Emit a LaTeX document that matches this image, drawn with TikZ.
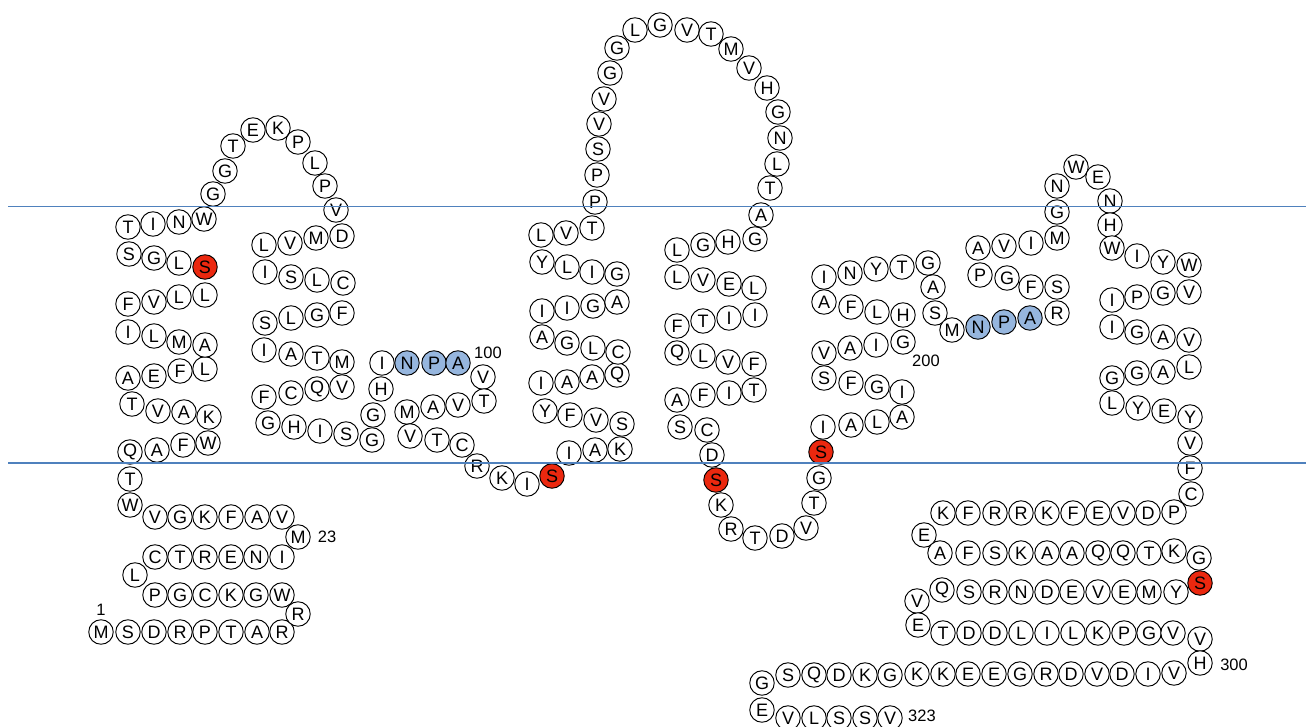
\documentclass[tikz,border=0pt]{standalone}
\usepackage{fontspec}
\setmainfont{Liberation Sans}
\definecolor{memb}{RGB}{79,129,189}
\definecolor{sred}{RGB}{235,40,15}
\definecolor{nblue}{RGB}{150,182,222}
\begin{document}
\begin{tikzpicture}[x=1pt,y=-1pt,
  resn/.style={circle,draw=black,line width=0.95pt,fill=white,minimum size=24.5pt,inner sep=0pt,font=\fontsize{18}{18}\selectfont},
  resr/.style={resn,fill=sred},
  resb/.style={resn,fill=nblue},
  lab/.style={font=\fontsize{16.5}{16.5}\selectfont,inner sep=0pt},
  membline/.style={draw=memb,line width=1.6pt}]
\path[use as bounding box] (0,0) rectangle (1306,726);
\foreach \x/\y/\l/\s [count=\i] in {
101/632/M/n, 128/632/S/n, 154/632/D/n, 180/632/R/n, 205/632/P/n, 231/632/T/n, 257/632/A/n, 282/632/R/n,
298/614/R/n, 282/595/W/n, 256/595/G/n, 231/595/K/n, 205/595/C/n, 180/595/G/n, 155/595/P/n,
135/575/L/n, 155/557/C/n, 180/557/T/n, 205/557/R/n, 231/557/E/n, 256/557/N/n, 282/557/I/n,
298/537/M/n, 282/517/V/n, 257/517/A/n, 231/517/F/n, 205/517/K/n, 180/517/G/n, 155/517/V/n,
130/505/W/n, 130/479/T/n, 130/452/Q/n, 157/450/A/n, 183/445/F/n, 208/443/W/n,
209/417/K/n, 184/412/A/n, 158/411/V/n, 132/404/T/n,
128/378/A/n, 154/376/E/n, 180/371/F/n, 205/369/L/n,
205/345/A/n, 179/342/M/n, 154/336/L/n, 128/332/I/n,
128/304/F/n, 154/302/V/n, 179/297/L/n, 205/295/L/n,
205/267/S/r, 179/263/L/n, 154/258/G/n, 129/254/S/n,
128/227/T/n, 153/224/I/n, 179/222/N/n, 204/219/W/n,
213/194/G/n, 225/171/G/n, 233/146/T/n, 253/130/E/n, 278/128/K/n, 298/142/P/n, 315/163/L/n, 325/186/P/n, 336/210/V/n,
342/236/D/n, 316/238/M/n, 290/243/V/n, 264/245/L/n,
265/272/I/n, 291/277/S/n, 317/280/L/n, 343/283/C/n,
342/313/F/n, 317/315/G/n, 291/318/L/n, 265/323/S/n,
264/350/I/n, 291/354/A/n, 317/358/T/n, 342/362/M/n,
342/387/V/n, 317/389/Q/n, 291/393/C/n, 264/397/F/n,
268/423/G/n, 294/427/H/n, 320/431/I/n, 346/434/S/n,
372/440/G/n, 373/415/G/n, 381/389/H/n, 382/363/I/n,
407/363/N/b, 434/363/P/b, 458/363/A/b,
483/377/V/n, 484/401/T/n, 458/405/V/n, 433/407/A/n, 407/412/M/n,
410/436/V/n, 437/440/T/n, 462/445/C/n, 477/466/R/n, 502/478/K/n, 527/484/I/n, 552/476/S/r,
569/453/I/n, 595/450/A/n, 620/449/K/n,
622/424/S/n, 596/420/V/n, 570/415/F/n, 545/411/Y/n,
541/383/I/n, 567/382/A/n, 592/377/A/n, 617/375/Q/n,
618/352/C/n, 593/348/L/n, 567/343/G/n, 542/337/A/n,
542/311/I/n, 567/308/I/n, 593/306/G/n, 617/302/A/n,
617/274/G/n, 592/272/I/n, 567/267/L/n, 542/262/Y/n,
541/235/L/n, 566/233/V/n, 592/228/T/n,
595/202/P/n, 597/175/P/n, 598/149/S/n, 599/124/V/n, 604/99/V/n, 610/73/G/n, 617/48/G/n,
635/30/L/n, 660/25/G/n, 687/30/V/n, 711/34/T/n, 731/49/M/n, 749/68/V/n, 767/88/H/n, 778/112/G/n,
780/138/N/n, 777/164/L/n, 770/188/T/n, 761/215/A/n,
755/239/G/n, 728/242/H/n, 703/245/G/n, 677/250/L/n,
677/277/L/n, 703/280/V/n, 729/284/E/n, 754/288/L/n,
755/315/I/n, 729/318/I/n, 703/321/T/n, 677/326/F/n,
677/353/Q/n, 703/356/L/n, 728/362/V/n, 754/364/F/n,
754/390/T/n, 729/393/I/n, 703/395/F/n, 677/400/A/n,
680/427/S/n, 707/430/C/n, 712/455/D/n, 716/480/S/r, 721/505/K/n, 731/529/R/n,
755/538/T/n, 782/536/D/n, 806/528/V/n, 814/503/T/n, 819/478/G/n, 821/452/S/r,
823/427/I/n, 851/425/A/n, 877/422/L/n, 902/417/A/n,
902/392/I/n, 877/387/G/n, 851/383/F/n, 824/378/S/n,
824/353/V/n, 850/348/A/n, 876/345/I/n, 903/342/G/n,
903/315/H/n, 877/312/L/n, 851/307/F/n, 824/302/A/n,
824/277/I/n, 850/273/N/n, 876/269/Y/n, 902/267/T/n, 928/263/G/n,
933/287/A/n, 935/313/S/n, 952/330/M/n,
978/327/N/b, 1004/322/P/b, 1030/318/A/b,
1057/313/R/n, 1057/287/S/n, 1031/287/F/n, 1007/278/G/n, 980/275/P/n,
978/248/A/n, 1004/246/V/n, 1031/243/I/n, 1057/238/M/n,
1057/212/G/n, 1057/186/N/n, 1076/167/W/n, 1098/177/E/n, 1110/201/N/n, 1110/225/H/n,
1112/248/W/n, 1137/256/I/n, 1163/262/Y/n, 1189/265/W/n,
1189/292/V/n, 1163/293/G/n, 1137/297/P/n, 1112/300/I/n,
1112/327/I/n, 1137/332/G/n, 1163/337/A/n, 1189/340/V/n,
1189/367/L/n, 1163/372/A/n, 1137/373/G/n, 1112/378/G/n,
1112/403/L/n, 1138/408/Y/n, 1164/411/E/n, 1190/417/Y/n,
1190/443/V/n, 1190/468/F/n, 1191/494/C/n,
1174/512/P/n, 1148/513/D/n, 1123/513/V/n, 1098/513/E/n, 1073/513/F/n, 1047/513/K/n, 1021/513/R/n, 995/513/R/n, 968/513/F/n, 943/513/K/n,
924/535/E/n,
940/553/A/n, 968/553/F/n, 995/553/S/n, 1021/553/K/n, 1047/553/A/n, 1072/553/A/n, 1098/553/Q/n, 1123/553/Q/n, 1149/553/T/n, 1174/551/K/n,
1199/558/G/n, 1200/583/S/r,
1176/592/Y/n, 1149/592/M/n, 1124/592/E/n, 1098/592/V/n, 1072/592/E/n, 1047/592/D/n, 1021/592/N/n, 995/592/R/n, 969/592/S/n, 942/590/Q/n,
917/601/V/n, 918/625/E/n,
943/633/T/n, 969/633/D/n, 995/633/D/n, 1021/633/L/n, 1047/633/I/n, 1073/633/L/n, 1098/633/K/n, 1124/633/P/n, 1149/633/G/n, 1173/633/V/n,
1200/639/V/n, 1200/663/H/n,
1174/673/V/n, 1148/674/I/n, 1122/674/D/n, 1097/674/V/n, 1071/674/D/n, 1046/674/R/n, 1020/674/G/n, 994/674/E/n, 968/674/E/n, 943/674/K/n, 917/674/K/n,
890/675/G/n, 865/675/K/n, 839/675/D/n, 814/675/Q/n, 788/675/S/n,
762/683/G/n, 762/710/E/n,
788/718/V/n, 814/718/L/n, 839/718/S/n, 865/718/S/n, 890/718/V/n}
  \node[res\s] (r\i) at (\x,\y) {\l};
\node[lab] (n1) at (101,610) {1};
\node[lab] (n23) at (327,537) {23};
\node[lab] (n100) at (488,353) {100};
\node[lab] (n200) at (926,361) {200};
\node[lab] (n300) at (1234,665) {300};
\node[lab] (n323) at (922,716) {323};
\coordinate (mtl) at (8,206.5);
\coordinate (mtr) at (1306,206.5);
\coordinate (mbl) at (8,463);
\coordinate (mbr) at (1306,463);
\draw[membline] (mtl) -- (mtr);
\draw[membline] (mbl) -- (mbr);
\end{tikzpicture}
\end{document}
